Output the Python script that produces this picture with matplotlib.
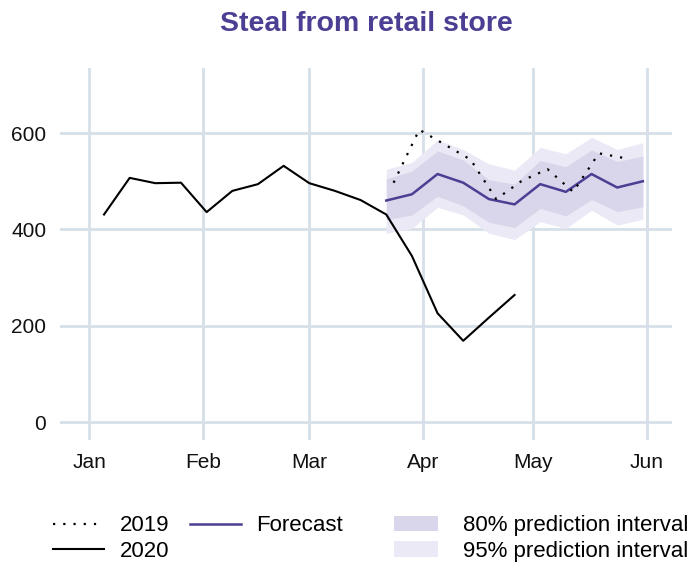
import matplotlib
matplotlib.use("Agg")
import matplotlib.pyplot as plt
import matplotlib.dates as mdates
from matplotlib.lines import Line2D
from matplotlib.patches import Patch
import pandas as pd

plt.rcParams['font.family'] = ['Liberation Sans', 'DejaVu Sans']

# weekly counts, 2020
dates_2020 = pd.date_range('2020-01-05', '2020-04-26', freq='7D')
values_2020 = [431, 507, 496, 497, 436, 480, 494, 532, 496, 480, 461, 431,
               345, 226, 169, 217, 264]

# same weeks of 2019, shown on the 2020 calendar
dates_2019 = pd.date_range('2020-03-24', '2020-05-26', freq='7D')
values_2019 = [497, 607, 576, 545, 463, 501, 525, 478, 558, 548]

# forecast with prediction intervals
dates_fc = pd.date_range('2020-03-22', '2020-05-31', freq='7D')
forecast = [460, 473, 515, 497, 463, 452, 494, 478, 515, 487, 500]
lo80 = [420, 430, 469, 449, 415, 404, 444, 428, 462, 437, 447]
hi80 = [505, 521, 563, 544, 503, 494, 543, 530, 565, 541, 552]
lo95 = [392, 402, 446, 430, 392, 379, 416, 402, 440, 409, 421]
hi95 = [525, 539, 586, 566, 536, 523, 570, 557, 591, 566, 580]

purple = '#4b3f94'
band80 = '#d9d5ea'
band95 = '#ebe9f5'
gridc = '#d7e0e8'
dots = (0, (1, 3.6))

fig = plt.figure(figsize=(6.98, 5.62), dpi=100)
ax = fig.add_axes([0.086, 0.217, 0.877, 0.662])

ax.fill_between(dates_fc, lo95, hi95, color=band95, lw=0, zorder=1)
ax.fill_between(dates_fc, lo80, hi80, color=band80, lw=0, zorder=2)
ax.plot(dates_fc, forecast, color=purple, lw=1.8, zorder=3)
ax.plot(dates_2019, values_2019, color='black', lw=1.6, linestyle=dots, zorder=4)
ax.plot(dates_2020, values_2020, color='black', lw=1.5, zorder=4)

ax.set_xlim(pd.Timestamp('2019-12-24'), pd.Timestamp('2020-06-08'))
ax.set_ylim(-37, 735)
ax.set_yticks([0, 200, 400, 600])
ax.xaxis.set_major_locator(mdates.MonthLocator())
ax.xaxis.set_major_formatter(mdates.DateFormatter('%b'))

ax.grid(True, color=gridc, lw=2)
ax.set_axisbelow(True)
for s in ax.spines.values():
    s.set_visible(False)
ax.tick_params(length=0, labelsize=15, colors='#111111')
ax.tick_params(axis='y', pad=10)
ax.tick_params(axis='x', pad=9)

ax.set_title('Steal from retail store', color=purple, fontsize=20.5,
             fontweight='bold', pad=27)

# legend in three separate blocks along the bottom
leg_kw = dict(loc='upper left', frameon=False, fontsize=16, handlelength=2.3,
              handletextpad=0.7, labelspacing=0.2, borderaxespad=0, borderpad=0)
leg1 = fig.legend([Line2D([], [], color='black', lw=1.6, linestyle=dots),
                   Line2D([], [], color='black', lw=1.5)],
                  ['2019', '2020'], bbox_to_anchor=(0.076, 0.083), **leg_kw)
leg2 = fig.legend([Line2D([], [], color=purple, lw=1.8)], ['Forecast'],
                  bbox_to_anchor=(0.272, 0.083), **leg_kw)
leg3 = fig.legend([Patch(color=band80, lw=0), Patch(color=band95, lw=0)],
                  ['80% prediction interval', '95% prediction interval'],
                  bbox_to_anchor=(0.564, 0.083),
                  **{**leg_kw, 'handlelength': 2.0, 'handletextpad': 1.1})

fig.savefig('out.png', dpi=100)
